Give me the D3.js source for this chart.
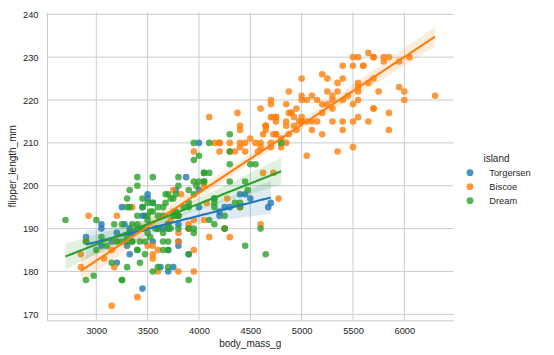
<!DOCTYPE html>
<html><head><meta charset="utf-8">
<script src="https://cdn.jsdelivr.net/npm/d3@7"></script>
<style>
body{margin:0;background:#fff;}
text{font-family:"Liberation Sans",Arial,sans-serif;fill:#262626;}
</style></head>
<body><svg id="chart" width="554" height="355"></svg>
<script>
const islands = ["Torgersen", "Biscoe", "Dream"];
const colors = ["#1f77b4", "#ff7f0e", "#2ca02c"];
const xTicks = [3000, 3500, 4000, 4500, 5000, 5500, 6000];
const yTicks = [170, 180, 190, 200, 210, 220, 230, 240];

const massTorgersen = [3750,3800,3250,3450,3650,3625,4675,3475,4250,3300,3700,3200,3800,4400,3700,3450,4500,3325,4200,
 3050,4450,3600,3900,3550,4150,3700,4250,3700,3900,3550,4000,3200,4700,3800,4200,
 2900,3775,3350,3325,3150,3500,3450,3875,3050,4000,3275,4300,3050,4000,3325,3500];
const flipperTorgersen = [181,186,195,193,190,181,195,193,190,186,180,182,191,198,185,195,197,184,194,
 190,198,190,190,196,197,190,195,191,184,187,195,189,196,187,193,
 188,199,189,189,187,198,176,202,186,199,191,195,191,210,190,197];

const massBiscoe = [3400,3600,3800,3950,3800,3800,3550,3200,3150,3950,
 3500,4300,3450,4050,2900,3700,3550,3800,2850,3750,3150,4400,3600,4050,2850,3950,3350,4100,
 3725,4725,3075,4250,2925,3550,3750,3900,3175,4775,3825,4600,3200,4275,3900,4075,
 4500,5700,4450,5700,5400,4550,4800,5200,4400,5150,4650,5550,4650,5850,4200,5850,4150,6300,4800,5350,
 5700,5000,4400,5050,5000,5100,4100,5650,4600,5550,5250,4700,5050,6050,5150,5400,4950,5250,4350,5350,
 3950,5700,4300,4750,5550,4900,4200,5400,5100,5300,4850,5300,4400,5000,4900,5050,4300,5000,4450,5550,
 4200,5300,4400,5650,4700,5700,4650,5800,4700,5550,4750,5000,5100,5200,4700,5800,4600,6000,4750,5950,
 4625,5450,4725,5350,4750,5600,4600,5300,4875,5550,4950,5400,4750,5650,4850,5200,4925,4875,4625,5250,
 4850,5600,4975,5500,4725,5500,4700,5500,4575,5500,5000,5950,4650,5500,4375,5850,4875,6000,4925,4850,
 5750,5200,5400];
const flipperBiscoe = [174,180,189,185,180,187,183,187,172,180,
 186,188,190,200,187,191,186,193,181,194,185,195,185,192,184,192,195,188,
 192,203,183,190,193,184,199,190,181,197,198,191,193,197,191,196,
 211,230,210,218,215,210,211,219,209,215,214,216,214,213,210,217,210,221,209,222,
 218,215,213,215,215,215,216,215,210,220,222,209,207,230,220,220,213,219,208,208,
 208,225,210,216,222,217,210,225,213,215,210,220,210,225,217,220,208,220,208,224,
 208,221,214,231,219,230,214,229,220,223,216,221,221,217,216,230,209,220,215,223,
 212,221,212,224,212,228,218,218,212,230,218,228,212,224,214,226,216,222,203,225,
 219,228,215,228,216,215,210,219,208,209,216,229,213,230,217,230,217,222,214,215,
 222,212,213];

const massDream = [3250,3900,3300,3900,3325,4150,3950,3550,3300,4650,3150,3900,3100,4400,3000,4600,3425,2975,3450,4150,
 3350,3550,3800,3500,3950,3600,3550,4300,3400,4450,3300,4300,3700,4350,2900,4100,
 3500,4475,3425,3900,3175,3975,3400,4250,3400,3475,3050,3725,3000,3650,4250,3475,3450,3750,3700,4000,
 3500,3900,3650,3525,3725,3950,3250,3750,4150,3700,3800,3775,3700,4050,3575,4050,3300,3700,3450,4400,
 3600,3400,2900,3800,3300,4150,3400,3800,3700,4550,3200,4300,3350,4100,3600,3900,3850,4800,2700,4500,
 3950,3650,3550,3500,3675,4450,3400,4300,3250,3675,3325,3950,3600,4050,3350,3450,3250,4050,3800,3525,
 3950,3650,3650,4000,3400,3775,4100,3775];
const flipperDream = [178,178,188,184,195,196,190,180,181,184,182,195,186,196,185,190,182,179,190,191,
 191,194,190,189,189,190,202,205,185,186,187,208,190,196,178,192,
 193,199,187,190,191,200,185,193,193,187,188,190,192,185,190,184,195,193,187,201,
 192,196,193,188,197,198,178,197,195,198,193,194,185,201,190,201,197,181,190,195,
 181,191,187,193,195,197,200,200,191,205,187,201,187,203,195,199,195,210,192,205,
 210,187,196,196,196,201,190,212,187,198,199,201,193,203,187,197,191,203,202,194,
 206,189,195,207,202,193,210,198];

const masses = [massTorgersen, massBiscoe, massDream];
const flippers = [flipperTorgersen, flipperBiscoe, flipperDream];

const svg = d3.select("#chart");
const x = d3.scaleLinear().domain([2520, 6480]).range([47, 453.6]);
const y = d3.scaleLinear().domain([168.6, 240.47]).range([320.3, 12.3]);
const grid = "#cccccc";

// grid
svg.append("g").selectAll("line").data(xTicks).join("line")
  .attr("x1", d => x(d)).attr("x2", d => x(d)).attr("y1", y.range()[0]).attr("y2", y.range()[1])
  .attr("stroke", grid).attr("stroke-width", 1);
svg.append("g").selectAll("line").data(yTicks).join("line")
  .attr("y1", d => y(d)).attr("y2", d => y(d)).attr("x1", x.range()[0]).attr("x2", x.range()[1])
  .attr("stroke", grid).attr("stroke-width", 1);

// axes via d3
const xAxis = svg.append("g").attr("transform", `translate(0,${y.range()[0]})`)
  .call(d3.axisBottom(x).tickValues(xTicks).tickSize(0).tickPadding(7.5).tickFormat(d3.format("d")));
const yAxis = svg.append("g").attr("transform", `translate(${x.range()[0]},0)`)
  .call(d3.axisLeft(y).tickValues(yTicks).tickSize(0).tickPadding(8.5).tickFormat(d3.format("d")));
[xAxis, yAxis].forEach(a => {
  a.select(".domain").attr("stroke", grid).attr("stroke-width", 1);
  a.selectAll("text").attr("font-size", 9.3).attr("fill", "#262626")
    .attr("font-family", '"Liberation Sans",Arial,sans-serif');
});

// regression stats
function fit(xs, ys) {
  const n = xs.length, mx = d3.mean(xs), my = d3.mean(ys);
  let sxx = 0, sxy = 0;
  for (let i = 0; i < n; i++) { sxx += (xs[i]-mx)**2; sxy += (xs[i]-mx)*(ys[i]-my); }
  const b = sxy / sxx, a = my - b*mx;
  let sse = 0;
  for (let i = 0; i < n; i++) sse += (ys[i] - a - b*xs[i])**2;
  const s = Math.sqrt(sse/(n-2));
  const t = 1.97;
  const [lo, hi] = d3.extent(xs);
  const pts = d3.range(100).map(i => {
    const xv = lo + (hi-lo)*i/99;
    const yv = a + b*xv;
    const se = s*Math.sqrt(1/n + (xv-mx)**2/sxx);
    return {x: xv, y: yv, y0: yv - t*se, y1: yv + t*se};
  });
  return pts;
}

const plotArea = svg.append("g");
const fits = masses.map((m, i) => fit(m, flippers[i]));
islands.forEach((isl, i) => {
  plotArea.append("g").selectAll("circle").data(d3.zip(masses[i], flippers[i])).join("circle")
    .attr("cx", d => x(d[0])).attr("cy", d => y(d[1])).attr("r", 3.3)
    .attr("fill", colors[i]).attr("fill-opacity", 0.8);
  plotArea.append("path").datum(fits[i])
    .attr("d", d3.area().x(d => x(d.x)).y0(d => y(d.y0)).y1(d => y(d.y1)))
    .attr("fill", colors[i]).attr("fill-opacity", 0.15);
});
islands.forEach((isl, i) => {
  plotArea.append("path").datum(fits[i])
    .attr("d", d3.line().x(d => x(d.x)).y(d => y(d.y)))
    .attr("fill", "none").attr("stroke", colors[i]).attr("stroke-width", 2.1);
});

// axis labels
svg.append("text").attr("x", (x.range()[0]+x.range()[1])/2).attr("y", 347)
  .attr("text-anchor", "middle").attr("font-size", 10).text("body_mass_g");
svg.append("text").attr("transform", `translate(16,${(y.range()[0]+y.range()[1])/2}) rotate(-90)`)
  .attr("text-anchor", "middle").attr("font-size", 10).text("flipper_length_mm");

// legend
const leg = svg.append("g");
leg.append("text").attr("x", 496.5).attr("y", 162).attr("text-anchor", "middle")
  .attr("font-size", 10).text("island");
islands.forEach((isl, i) => {
  const cy = 172.7 + i*14;
  leg.append("circle").attr("cx", 470).attr("cy", cy).attr("r", 3.4)
    .attr("fill", colors[i]).attr("fill-opacity", 0.8);
  leg.append("text").attr("x", 489.3).attr("y", cy + 3.3).attr("font-size", 9.3).text(isl);
});
</script></body></html>
